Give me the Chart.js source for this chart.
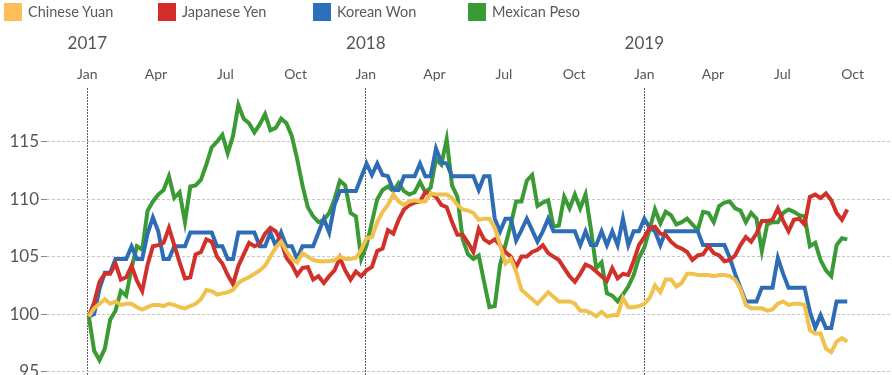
<!DOCTYPE html>
<html>
<head>
  <meta charset="utf-8">
  <title>Currency Index vs USD</title>
  <script src="https://cdn.jsdelivr.net/npm/chart.js"></script>
  <style>
    body {
      margin: 0;
      background: #ffffff;
      font-family: Lato, 'Open Sans', sans-serif;
    }
    .wrap {
      position: relative;
      width: 892px;
      height: 375px;
      overflow: hidden;
    }
    canvas {
      display: block;
    }
    .legend-item {
      position: absolute;
      top: 3px;
      height: 18px;
      line-height: 18px;
      font-size: 14.5px;
      color: #595959;
      white-space: nowrap;
    }
    .legend-item span {
      display: inline-block;
      width: 18px;
      height: 18px;
      vertical-align: top;
      margin-right: 6px;
    }
  </style>
</head>
<body>
  <div class="wrap">
    <div id="legend"></div>
    <canvas id="fxChart" width="892" height="375"></canvas>
  </div>

  <script>
    // weekly index values, first week of Jan 2017 = 100
    const currencies = ['Chinese Yuan', 'Japanese Yen', 'Korean Won', 'Mexican Peso'];
    const lineColors = ['#F0C14D', '#D1312B', '#2E6DB6', '#3A9A33'];
    const boxColors = ['#FDBF5A', '#D42B2B', '#2A70BA', '#3A9A34'];

    const yuan = [
      99.8, 100.5, 100.9, 101.3, 100.9, 101.1, 100.8, 100.9, 100.9, 100.6,
      100.4, 100.6, 100.8, 100.8, 100.7, 100.9, 100.8, 100.6, 100.5, 100.7,
      100.9, 101.3, 102.1, 102.0, 101.7, 101.8, 101.9, 102.1, 102.7, 103.0,
      103.2, 103.5, 103.8, 104.2, 105.0, 105.8, 106.3, 105.5, 104.8, 104.5,
      105.3, 105.0, 104.7, 104.6, 104.6, 104.6, 104.7, 105.0, 104.8, 104.8,
      104.9, 105.6, 106.6, 106.7, 108.0, 108.9, 109.5, 110.4, 109.8, 109.5,
      109.8, 109.9, 109.8, 109.8, 110.5, 110.4, 110.4, 110.4, 110.1, 109.5,
      109.1, 109.0, 108.8, 108.2, 108.3, 108.3, 107.5, 106.0, 104.4, 104.8,
      103.7, 102.1, 101.7, 101.3, 100.9, 101.4, 101.9, 101.5, 101.1, 101.1,
      101.1, 100.9, 100.3, 100.3, 100.1, 99.8, 100.2, 99.8, 99.9, 99.9,
      101.4, 100.6, 100.6, 100.7, 100.9, 101.4, 102.5, 101.9, 103.0, 103.0,
      102.4, 102.7, 103.5, 103.5, 103.4, 103.4, 103.4, 103.3, 103.4, 103.4,
      103.3, 103.0, 102.2, 100.8, 100.5, 100.5, 100.5, 100.3, 100.4, 100.9,
      101.1, 100.8, 100.9, 100.9, 100.8, 98.6, 98.3, 98.3, 97.0, 96.7,
      97.6, 97.9, 97.6
    ];

    const yen = [
      99.8, 101.0, 102.8, 103.5, 103.5, 104.4, 103.0, 103.2, 104.2, 102.9,
      102.0, 104.3, 105.9, 106.0, 106.2, 107.5, 106.0, 104.5, 103.1, 103.2,
      105.2, 105.4, 106.5, 106.3, 105.0, 104.4, 103.4, 102.6, 104.2, 105.2,
      106.2, 105.9, 106.1, 107.0, 107.5, 107.2, 106.3, 104.9, 104.3, 103.4,
      104.0, 104.1, 103.0, 103.3, 102.7, 103.3, 103.8, 104.9, 103.8, 103.0,
      103.7, 103.3, 103.8, 104.1, 105.5, 105.7, 107.3, 107.0, 108.2, 109.1,
      109.5, 109.7, 109.8, 110.6, 110.5, 110.2, 109.5, 109.3, 108.0, 106.9,
      106.9, 106.2, 105.4, 107.4, 106.5, 106.2, 106.5, 106.0, 105.4, 105.0,
      104.1, 105.0, 105.0, 105.4, 105.6, 106.0, 105.3, 105.0, 104.7, 104.0,
      103.3, 102.8, 103.5, 104.3, 104.1, 103.7, 103.3, 102.9, 104.0, 103.1,
      103.5, 103.4, 104.6, 106.0, 106.7, 107.5, 107.6, 107.0, 106.9, 106.3,
      105.9, 105.7, 105.4, 104.7, 105.1, 105.2, 105.9, 105.3, 105.1, 104.6,
      104.7, 105.1, 106.0, 106.7, 106.3, 107.0, 108.1, 108.1, 108.2, 109.2,
      108.1, 107.2, 108.2, 108.3, 107.8, 110.2, 110.4, 110.1, 110.5, 109.9,
      108.8, 108.2, 109.1
    ];

    const won = [
      99.8, 100.0, 102.2, 103.6, 103.6, 104.8, 104.8, 104.8, 105.9, 104.8,
      104.8, 107.0, 108.4, 107.2, 104.8, 104.8, 105.9, 105.9, 105.9, 107.1,
      107.1, 107.1, 107.1, 107.1, 105.9, 105.9, 104.8, 104.8, 107.1, 107.1,
      107.1, 107.1, 105.9, 105.9, 107.1, 105.9, 107.1, 105.9, 105.9, 104.8,
      105.9, 105.9, 105.9, 107.1, 108.3, 107.1, 109.5, 110.7, 110.7, 110.7,
      110.7, 111.9, 113.1, 112.1, 113.1, 112.1, 112.0, 110.8, 110.8, 112.0,
      112.0, 112.0, 113.1, 112.0, 112.0, 114.4, 113.2, 113.1, 112.0, 112.0,
      112.0, 112.0, 112.0, 110.8, 112.0, 112.0, 108.3, 107.2, 108.3, 108.3,
      106.4, 107.3, 108.3, 107.3, 106.3, 107.2, 108.3, 107.2, 107.2, 107.2,
      107.2, 107.2, 106.0, 107.2, 106.0, 106.0, 107.2, 106.0, 107.2, 106.0,
      108.3, 106.0, 107.2, 107.2, 108.3, 107.5, 107.2, 106.0, 107.2, 107.2,
      107.2, 107.2, 107.2, 107.2, 107.2, 106.0, 106.0, 106.0, 106.0, 106.0,
      104.9, 103.5, 102.3, 101.1, 101.1, 101.1, 102.3, 102.3, 102.3, 104.9,
      103.5, 102.3, 102.3, 102.3, 102.3, 100.2, 98.8, 99.9, 98.8, 98.8,
      101.1, 101.1, 101.1
    ];

    const peso = [
      99.8, 96.8, 96.0, 97.0, 99.5, 100.3, 102.0, 101.6, 104.0, 105.9,
      105.6, 109.0, 109.8, 110.4, 110.8, 112.0, 110.1, 110.6, 108.0, 111.1,
      111.2, 111.7, 113.0, 114.5, 115.0, 115.6, 114.0, 115.5, 118.2, 117.0,
      116.6, 115.8, 116.5, 117.4, 116.0, 116.2, 117.0, 116.6, 115.5, 113.5,
      111.2, 109.3, 108.5, 108.0, 108.2, 108.8, 110.0, 111.6, 111.2, 108.8,
      108.5, 104.8, 106.0, 108.0, 110.0, 110.8, 111.1, 110.7, 111.4, 110.7,
      110.4, 110.6, 111.5, 110.6, 111.0, 113.5, 113.0, 115.2, 111.2, 110.2,
      106.5, 105.2, 104.8, 105.1, 102.8, 100.6, 100.7, 104.3, 106.0, 107.8,
      109.8, 109.8, 111.6, 112.1, 109.4, 109.7, 109.9, 107.6, 107.7, 110.2,
      109.2, 110.4, 109.2, 110.4, 107.4, 104.0, 104.5, 101.8, 101.6, 101.1,
      101.7, 102.4, 103.4, 104.9, 105.8, 107.4, 109.1, 107.9, 108.9, 108.6,
      107.8, 108.0, 108.3, 107.8, 107.3, 108.9, 108.8, 108.0, 109.4, 109.7,
      109.8, 109.2, 109.0, 108.0, 108.8, 108.3, 105.5, 107.8, 108.0, 108.0,
      108.8, 109.1, 108.9, 108.6, 108.5, 105.9, 106.2, 104.7, 103.8, 103.3,
      106.0, 106.6, 106.5
    ];

    // x axis in days since 1 Jan 2017, one point per week
    const firstWeekDay = 2;
    const weekDays = yuan.map((_, i) => firstWeekDay + 7 * i);

    const monthTickDays = [0, 90, 181, 273, 365, 455, 546, 638, 730, 820, 911, 1003];
    const monthTickLabels = ['Jan', 'Apr', 'Jul', 'Oct', 'Jan', 'Apr', 'Jul', 'Oct', 'Jan', 'Apr', 'Jul', 'Oct'];
    const yearTickDays = [0, 365, 730];
    const yearTickLabels = ['2017', '2018', '2019'];
    const yTicks = [95, 100, 105, 110, 115];

    const seriesValues = [yuan, yen, won, peso];

    // html legend, fixed spacing like the original
    const legendLeft = [4, 158, 313, 468];
    const legend = document.getElementById('legend');
    currencies.forEach((name, i) => {
      const item = document.createElement('div');
      item.className = 'legend-item';
      item.style.left = legendLeft[i] + 'px';
      item.innerHTML = '<span style="background:' + boxColors[i] + '"></span>' + name;
      legend.appendChild(item);
    });

    const fontFamily = "Lato, 'Open Sans', sans-serif";

    new Chart(document.getElementById('fxChart').getContext('2d'), {
      type: 'line',
      data: {
        datasets: currencies.map((name, i) => ({
          label: name,
          data: seriesValues[i].map((v, j) => ({ x: weekDays[j], y: v })),
          borderColor: lineColors[i],
          borderWidth: 4,
          pointRadius: 0,
          tension: 0,
          fill: false
        }))
      },
      options: {
        responsive: false,
        animation: false,
        layout: { padding: { top: 34, left: 0, right: 0, bottom: 0 } },
        plugins: {
          legend: { display: false },
          tooltip: { enabled: false }
        },
        scales: {
          x: {
            type: 'linear',
            position: 'top',
            min: -52.8,
            max: 1054.6,
            weight: 0,
            afterBuildTicks: scale => {
              scale.ticks = monthTickDays.map(v => ({ value: v }));
            },
            afterFit: scale => {
              scale.height = 22;
              scale.paddingLeft = 0;
              scale.paddingRight = 0;
            },
            ticks: {
              padding: 5,
              maxRotation: 0,
              autoSkip: false,
              color: '#555',
              font: { family: fontFamily, size: 14 },
              callback: (value) => monthTickLabels[monthTickDays.indexOf(value)]
            },
            grid: {
              drawTicks: false,
              lineWidth: 1,
              color: ctx => (ctx.tick && yearTickDays.includes(ctx.tick.value)) ? '#5e5e5e' : 'rgba(0,0,0,0)'
            },
            border: { display: false, dash: [2, 1] }
          },
          x2: {
            type: 'linear',
            position: 'top',
            min: -52.8,
            max: 1054.6,
            weight: 1,
            afterBuildTicks: scale => {
              scale.ticks = yearTickDays.map(v => ({ value: v }));
            },
            afterFit: scale => {
              scale.height = 32;
              scale.paddingLeft = 0;
              scale.paddingRight = 0;
            },
            ticks: {
              padding: 12,
              maxRotation: 0,
              autoSkip: false,
              color: '#555',
              font: { family: fontFamily, size: 17 },
              callback: (value) => yearTickLabels[yearTickDays.indexOf(value)]
            },
            grid: { display: false, drawTicks: false },
            border: { display: false }
          },
          y: {
            min: 94.7,
            max: 119.67,
            afterBuildTicks: scale => {
              scale.ticks = yTicks.map(v => ({ value: v }));
            },
            afterFit: scale => {
              scale.width = 47;
              scale.paddingTop = 0;
              scale.paddingBottom = 0;
            },
            ticks: {
              padding: 2,
              color: '#555',
              font: { family: fontFamily, size: 17 }
            },
            grid: {
              color: '#c6c6c6',
              lineWidth: 1,
              tickLength: 6,
              tickColor: '#888',
              tickWidth: 1
            },
            border: { display: false, dash: [3, 2] }
          }
        }
      }
    });
  </script>
</body>
</html>
